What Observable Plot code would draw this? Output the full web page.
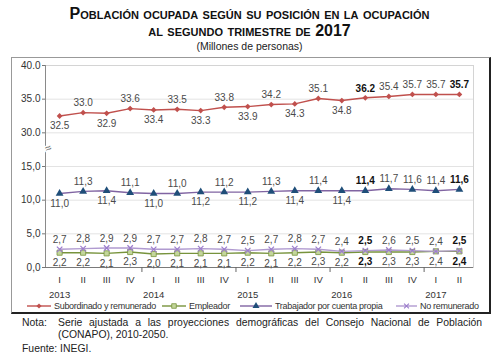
<!DOCTYPE html>
<html><head><meta charset="utf-8">
<script src="https://cdn.jsdelivr.net/npm/d3@7"></script>
<script src="https://cdn.jsdelivr.net/npm/@observablehq/plot@0.6"></script>
<style>
body{margin:0;width:499px;height:357px;position:relative;overflow:hidden;font-family:"Liberation Sans",Arial,sans-serif;background:#fff;color:#1a1a1a}
.title{position:absolute;left:0;width:499px;text-align:center;font-weight:bold;font-variant:small-caps;font-size:16px;line-height:17px;color:#111}
#sub{position:absolute;left:0;width:499px;text-align:center;font-size:10.5px;top:40px;color:#222}
#box{position:absolute;left:11px;top:57px;width:477px;height:254px;border-left:1px solid #999;border-top:1px solid #999;border-right:2px solid #222;border-bottom:2px solid #222}
#chart{position:absolute;left:0;top:55px}
#legend{position:absolute;left:0;top:301px;width:499px;height:12px;font-size:9px;letter-spacing:-0.3px;color:#333;white-space:nowrap}
#legend .it{position:absolute;top:0;display:flex;align-items:center}
#legend svg{margin-right:3px}
#notes{position:absolute;left:22px;top:317px;width:460px;font-size:10.4px;line-height:12px;color:#222}
#notes .row{display:flex}
#notes .lab{width:36px;flex:none}
#notes .txt{flex:1;text-align:justify;text-align-last:left}
</style></head>
<body>
<div class="title" style="top:5px">Población ocupada según su posición en la ocupación</div>
<div class="title" style="top:22px">al segundo trimestre de 2017</div>
<div id="sub">(Millones de personas)</div>
<div id="box"></div>
<div id="chart"></div>
<div id="legend"></div>
<div id="notes">
  <div class="row"><div class="lab">Nota:</div><div class="txt">Serie ajustada a las proyecciones demográficas del Consejo Nacional de Población (CONAPO), 2010-2050.</div></div>
  <div style="margin-top:2px">Fuente: INEGI.</div>
</div>
<script>
// ---- data ----
const trimestres = ["I","II","III","IV","I","II","III","IV","I","II","III","IV","I","II","III","IV","I","II"];
const anios = ["2013","2014","2015","2016","2017"];
const subordinado = [32.5,33.0,32.9,33.6,33.4,33.5,33.3,33.8,33.9,34.2,34.3,35.1,34.8,35.2,35.4,35.7,35.7,35.7];
const subordinadoEtiquetas = ["32.5","33.0","32.9","33.6","33.4","33.5","33.3","33.8","33.9","34.2","34.3","35.1","34.8","36.2","35.4","35.7","35.7","35.7"];
const empleador = [2.2,2.2,2.1,2.3,2.0,2.1,2.1,2.1,2.2,2.1,2.2,2.3,2.2,2.3,2.3,2.3,2.4,2.4];
const trabajador = [11.0,11.3,11.4,11.1,11.0,11.0,11.2,11.2,11.2,11.3,11.4,11.4,11.4,11.4,11.7,11.6,11.4,11.6];
const noRemunerado = [2.7,2.8,2.9,2.9,2.7,2.7,2.8,2.7,2.5,2.7,2.8,2.7,2.4,2.5,2.6,2.5,2.4,2.5];
const yTicks = [0,5,10,15,30,35,40];
const series = ["Subordinado y remunerado","Empleador","Trabajador por cuenta propia","No remunerado"];

// ---- styling ----
const colores = {
  "Subordinado y remunerado": {line:"#c0504d", fill:"#c0504d", stroke:"none", symbol:"diamond2", r:2.6},
  "Empleador": {line:"#77933c", fill:"#c3d69b", stroke:"#77933c", symbol:"square", r:2.9},
  "Trabajador por cuenta propia": {line:"#8064a2", fill:"#1f4e79", stroke:"none", symbol:"triangle", r:2.9},
  "No remunerado": {line:"#b09ad0", fill:"none", stroke:"#9b7ccc", symbol:"times", r:2.6}
};
const legendaPos = [{left:27, w:24}, {left:162, w:24}, {left:240, w:32}, {left:396, w:21}];

// broken axis: values >= 30 are shifted down to sit just above 15
const f = v => v >= 30 ? v - 10 : v;
const n = trimestres.length;
const idx = d3.range(n);
const bold = i => i === n - 1 || i === n - 5;
const fmtComa = v => v.toFixed(1).replace(".", ",");

const mk = (vals, serie, labels) => vals.map((v, i) => ({i, v, serie, label: labels ? labels[i] : fmtComa(v)}));
const rSub = mk(subordinado, series[0], subordinadoEtiquetas);
const rEmp = mk(empleador, series[1]);
const rTra = mk(trabajador, series[2]);
const rNo = mk(noRemunerado, series[3]);
const font = "Liberation Sans, Arial, sans-serif";

function etiquetas(rows, posFn) {
  const marks = [];
  for (const pos of ["above","below"]) for (const b of [false,true]) {
    marks.push(Plot.text(rows.filter(d => posFn(d.i) === pos && bold(d.i) === b), {
      x: "i", y: d => f(d.v), text: "label",
      dy: pos === "above" ? -9.5 : 10,
      fontSize: 10, fontWeight: b ? "bold" : "normal",
      fill: b ? "#111" : "#4a4a4a",
      fontFamily: font
    }));
  }
  return marks;
}
const alterna = i => (i <= 12 && i % 2 === 0) ? "below" : "above";

function serieMarks(rows) {
  const c = colores[rows[0].serie];
  return [
    Plot.line(rows, {x: "i", y: d => f(d.v), stroke: c.line, strokeWidth: 1.4}),
    Plot.dot(rows, {x: "i", y: d => f(d.v), symbol: c.symbol, r: c.r, fill: c.fill, stroke: c.stroke, strokeWidth: c.symbol === "times" ? 1.2 : 0.8})
  ];
}

const yearStarts = anios.map((a, k) => k * 4);
const bounds = yearStarts.slice(1).map(i => i - 0.5);
const xDomain = [-0.6, n - 1 + 0.6];
const yFmt = v => v > 15 ? (v + 10).toFixed(1) : fmtComa(v);

const plot = Plot.plot({
  width: 499, height: 248,
  marginLeft: 45, marginRight: 26, marginTop: 10, marginBottom: 36,
  style: {background: "transparent", overflow: "visible", fontFamily: font},
  x: {type: "linear", domain: xDomain, axis: null},
  y: {domain: [0, f(40)], axis: null},
  marks: [
    Plot.ruleY(yTicks.map(f).filter(v => v > 0), {stroke: "#e3e3e3", strokeWidth: 1}),
    Plot.frame({stroke: "#d4d4d4"}),
    Plot.ruleX([xDomain[0]], {stroke: "#8a8a8a"}),
    Plot.ruleY([0], {stroke: "#7a7a7a"}),
    Plot.axisY(yTicks.map(f), {tickSize: 3, tickPadding: 2, tickFormat: yFmt, fontSize: 10, fill: "#333", stroke: "#777", label: null, fontFamily: font}),
    Plot.text([(f(15) + f(30)) / 2], {y: d => d, frameAnchor: "left", text: () => "≈", fontSize: 11, rotate: -25, fill: "#666", stroke: "white", strokeWidth: 3, paintOrder: "stroke"}),
    Plot.axisX(bounds, {tickSize: 5, tickFormat: () => "", stroke: "#666", label: null}),
    Plot.axisX(idx, {tickSize: 0, tickPadding: 9, tickFormat: i => trimestres[i], fontSize: 9.5, fill: "#333", label: null, fontFamily: font}),
    Plot.axisX(yearStarts, {tickSize: 0, tickPadding: 24, tickFormat: i => anios[i / 4], fontSize: 9.5, fill: "#333", label: null, fontFamily: font}),
    ...serieMarks(rSub), ...serieMarks(rEmp), ...serieMarks(rTra), ...serieMarks(rNo),
    ...etiquetas(rSub, alterna),
    ...etiquetas(rTra, alterna),
    ...etiquetas(rNo, () => "above"),
    ...etiquetas(rEmp, () => "below")
  ]
});
document.getElementById("chart").append(plot);

// legend
const leg = document.getElementById("legend");
series.forEach((s, k) => {
  const c = colores[s];
  const {left, w} = legendaPos[k];
  const it = document.createElement("div");
  it.className = "it";
  it.style.left = left + "px";
  const sym = d3.symbol(d3["symbol" + {diamond2:"Diamond2", square:"Square", triangle:"Triangle", times:"Times"}[c.symbol]], c.r * c.r * 2.5)();
  it.innerHTML = `<svg width="${w}" height="8"><line x1="0" x2="${w}" y1="4" y2="4" stroke="${c.line}" stroke-width="1.4"/><path d="${sym}" transform="translate(${w/2},4)" fill="${c.fill}" stroke="${c.stroke}" stroke-width="${c.symbol === 'times' ? 1.1 : 0.8}"/></svg><span>${s}</span>`;
  leg.append(it);
});
</script>
</body></html>
